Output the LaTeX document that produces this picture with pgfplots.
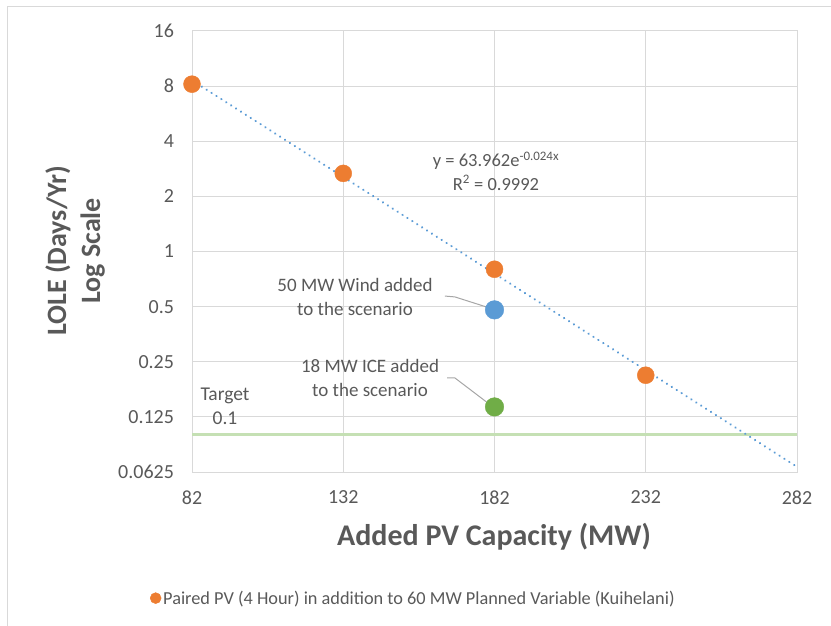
\documentclass[border=0pt]{standalone}
\usepackage{pgfplots}
\pgfplotsset{compat=1.18}
\usepackage{fontspec}
\setmainfont{Carlito}
\definecolor{txt}{HTML}{595959}
\definecolor{gridc}{HTML}{D9D9D9}
\definecolor{orng}{HTML}{ED7D31}
\definecolor{blu}{HTML}{5B9BD5}
\definecolor{grn}{HTML}{70AD47}
\definecolor{tgt}{HTML}{C5E0B4}
\definecolor{lead}{HTML}{A6A6A6}
\begin{document}
\begin{tikzpicture}[x=1pt,y=1pt]
\useasboundingbox (0,0) rectangle (831,-626);
\draw[gridc, line width=1pt] (7,-640) -- (7,-7) -- (840,-7);
\begin{axis}[
  at={(192pt,-472pt)}, anchor=south west,
  scale only axis, width=605pt, height=441pt,
  xmin=82, xmax=282,
  ymode=log, log basis y=2, ymin=0.0625, ymax=16,
  xtick={82,132,182,232,282},
  xticklabels={82,132,182,232,282},
  ytick={0.0625,0.125,0.25,0.5,1,2,4,8,16},
  yticklabels={0.0625,0.125,0.25,0.5,1,2,4,8,16},
  grid=major,
  major grid style={gridc, line width=1pt},
  axis line style={gridc, line width=1pt},
  tick style={draw=none},
  tick label style={font=\fontsize{20}{22}\selectfont, text=txt},
  xticklabel style={yshift=-15pt},
  yticklabel style={xshift=-14.5pt},
  clip=false,
  legend style={at={(0.366,-0.286)}, anchor=center, draw=none, fill=none,
    font=\fontsize{18.3}{20}\selectfont, text=txt,
    /tikz/every even column/.append style={column sep=0pt}},
  legend image post style={mark size=5.5pt},
  legend image code/.code={\draw[mark repeat=2,mark phase=2] plot coordinates {(0pt,0pt) (6pt,0pt) (12pt,0pt)};},
  legend cell align=left,
]
% target line
\addplot[tgt, line width=2.5pt, forget plot] coordinates {(82,0.1) (282,0.1)};
% orange series
\addplot[only marks, mark=*, mark size=8.5pt, color=orng, mark options={draw=orng, fill=orng}]
  coordinates {(82,8.2) (132,2.67) (182,0.80) (232,0.211)};
\addlegendentry{Paired PV (4 Hour) in addition to 60 MW Planned Variable (Kuihelani)}
% blue and green points
\addplot[only marks, mark=*, mark size=9.3pt, mark options={draw=blu, fill=blu}, forget plot]
  coordinates {(182,0.48)};
\addplot[only marks, mark=*, mark size=9.3pt, mark options={draw=grn, fill=grn}, forget plot]
  coordinates {(182,0.1417)};
% trendline
\addplot[blu, line width=2.4pt, line cap=round, dash pattern=on 0.01pt off 5.8pt, forget plot]
  coordinates {(82,8.6) (282,0.0667)};
% leader lines
\addplot[lead, line width=1pt, forget plot] coordinates {(165.6,0.571) (168.9,0.565) (181.5,0.485)};
\addplot[lead, line width=1pt, forget plot] coordinates {(166.3,0.204) (168.9,0.204) (181.5,0.1417)};
\end{axis}
\node[text=txt, font=\bfseries\fontsize{30}{36}\selectfont] at (494,-537) {Added PV Capacity (MW)};
\node[text=txt, font=\bfseries\fontsize{28}{34}\selectfont, rotate=90, align=center] at (75,-251) {LOLE (Days/Yr)\\Log Scale};
\node[text=txt, font=\fontsize{19}{24}\selectfont, align=center] at (355,-297) {50 MW Wind added\\to the scenario};
\node[text=txt, font=\fontsize{19}{24}\selectfont, align=center] at (370,-378) {18 MW ICE added\\to the scenario};
\node[text=txt, font=\fontsize{19.5}{24}\selectfont, align=center] at (225,-406) {Target\\0.1};
\node[text=txt, font=\fontsize{18.5}{23.5}\selectfont, align=center] at (496,-171) {y = 63.962e\textsuperscript{-0.024x}\\R\textsuperscript{2} = 0.9992};
\end{tikzpicture}
\end{document}
